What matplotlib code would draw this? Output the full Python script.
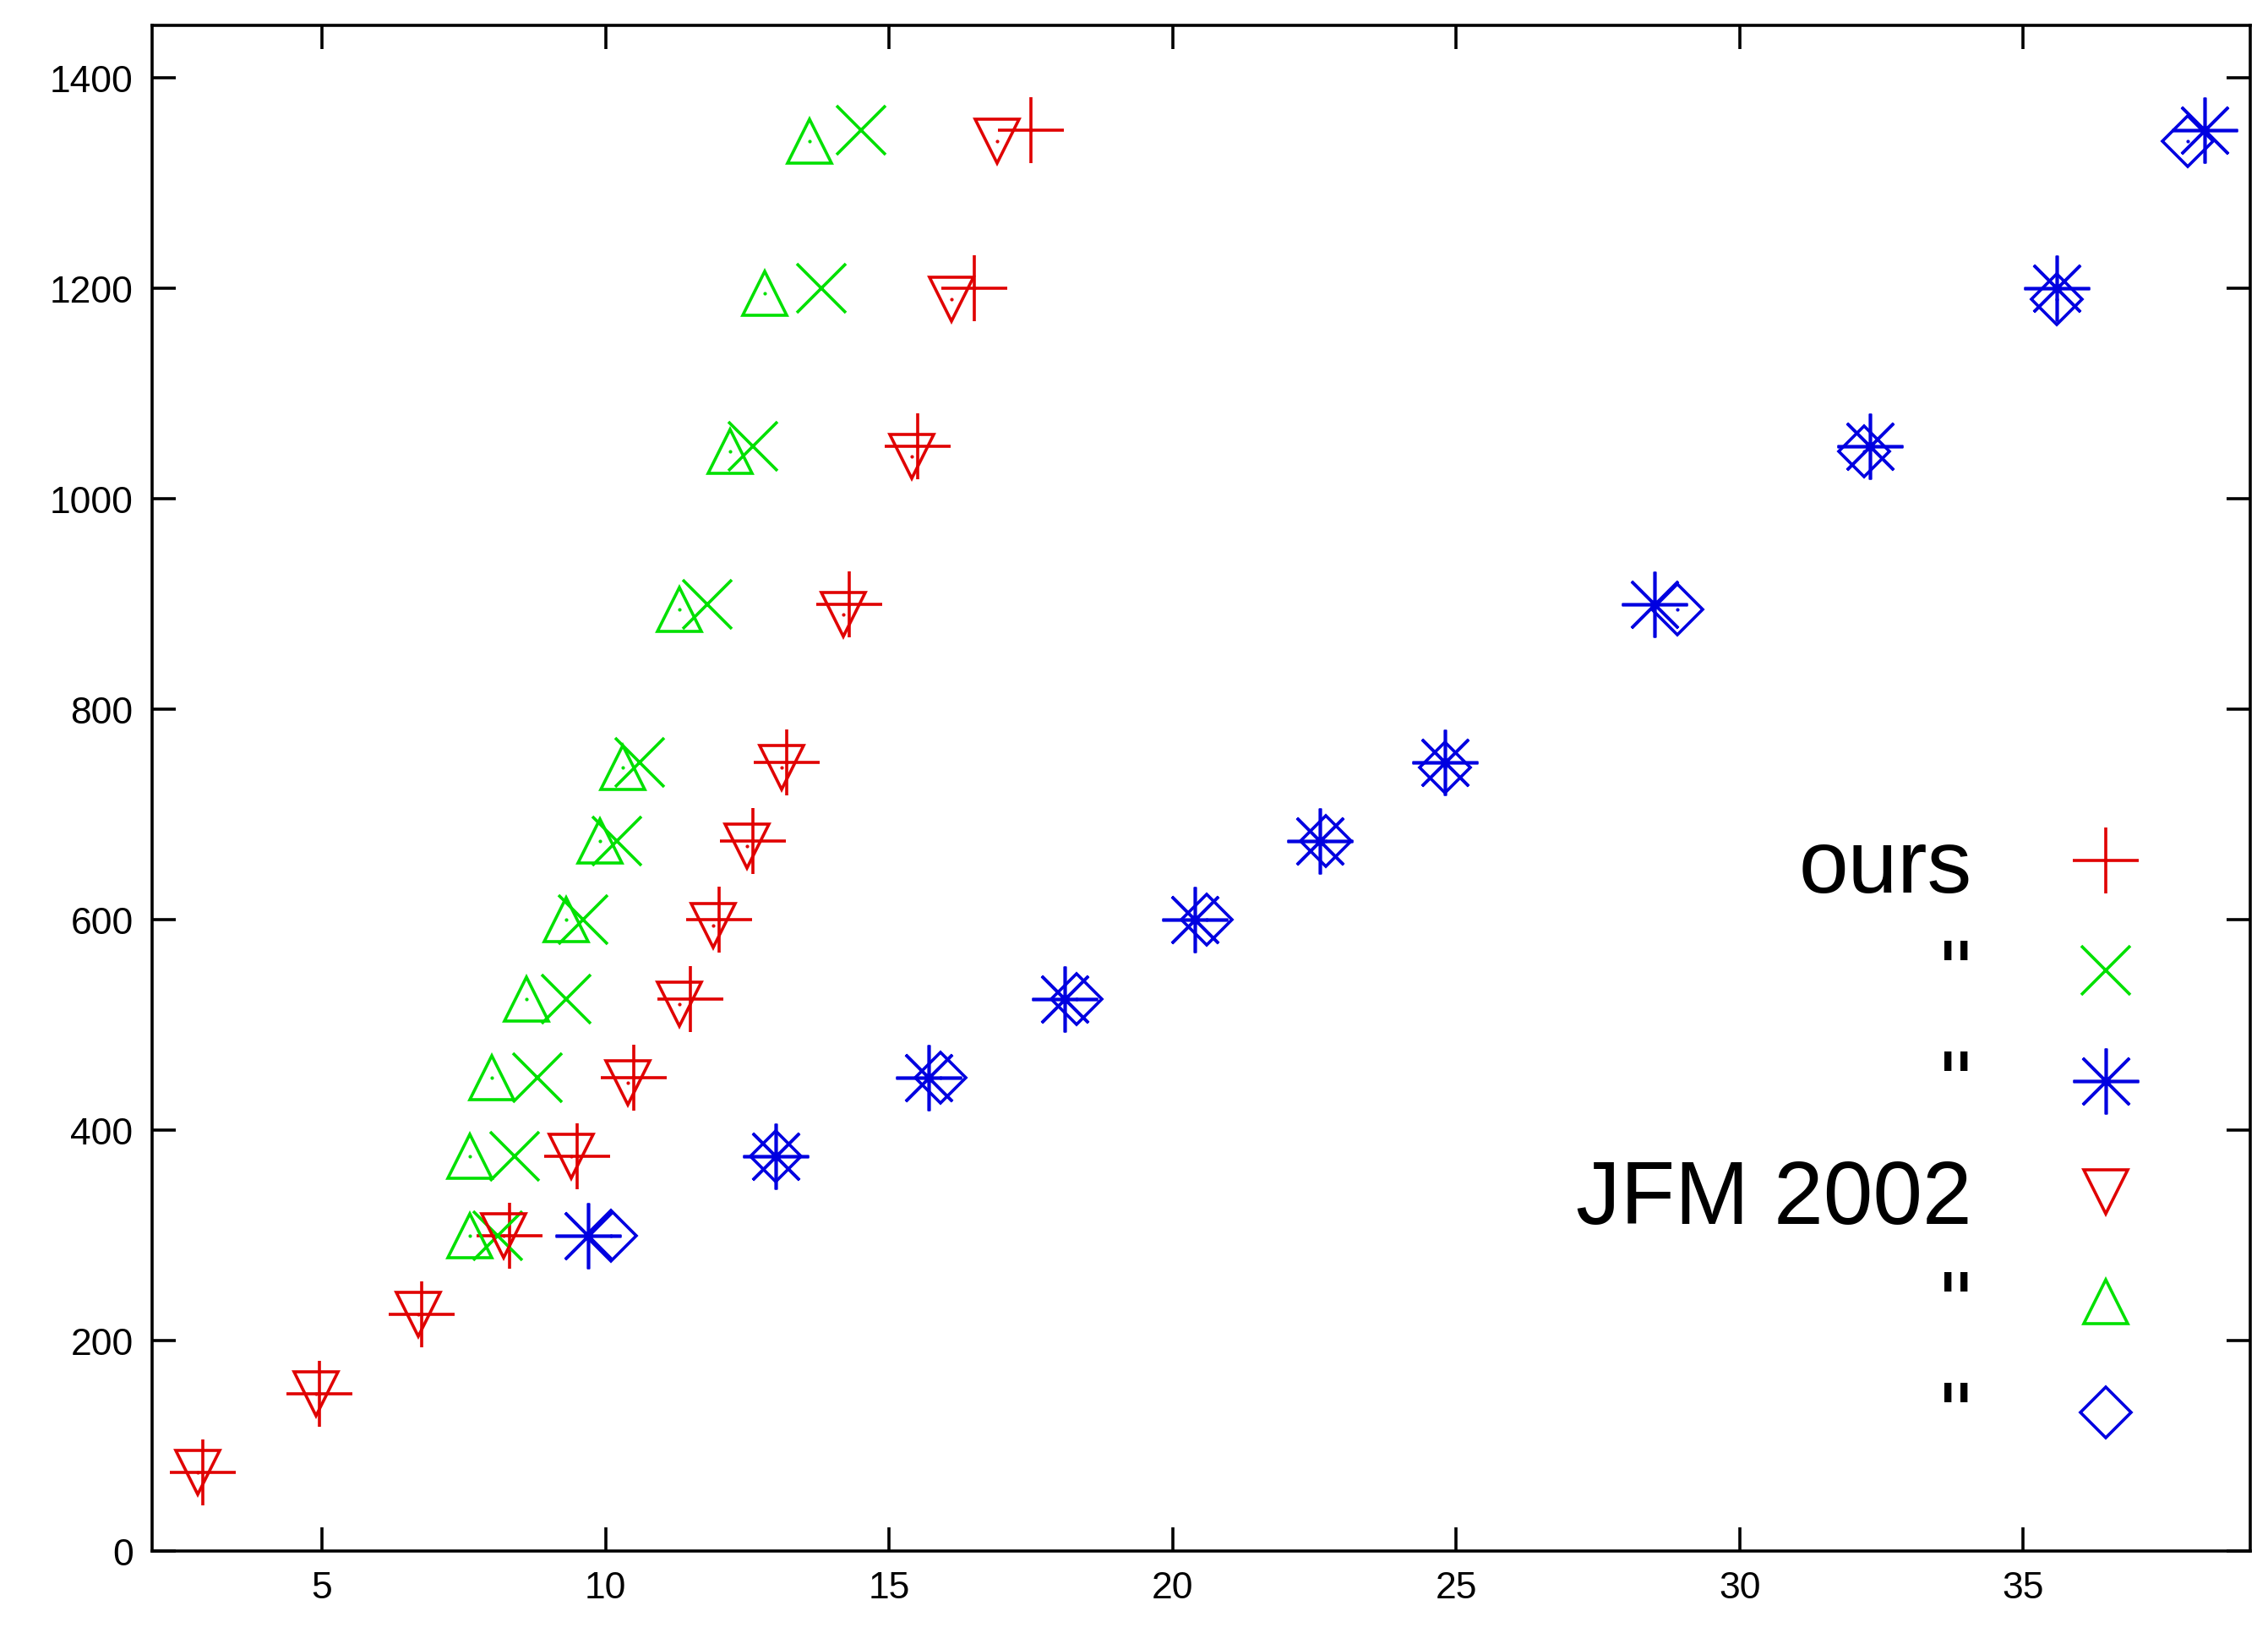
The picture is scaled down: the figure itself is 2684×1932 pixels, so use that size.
import matplotlib
matplotlib.use("Agg")
import matplotlib.pyplot as plt

plt.rcParams["font.family"] = ["Liberation Sans", "DejaVu Sans"]

levels = [75, 150, 225, 300, 375, 450, 525, 600, 675, 750, 900, 1050, 1200, 1350]

ours_red_x = [2.9, 4.95, 6.75, 8.3, 9.5, 10.5, 11.5, 12.0, 12.6, 13.2, 14.3, 15.5, 16.5, 17.5]
ours_red_y = levels

ours_green_x = [8.1, 8.4, 8.8, 9.3, 9.6, 10.2, 10.6, 11.8, 12.6, 13.8, 14.5]
ours_green_y = levels[3:]

ours_blue_x = [9.7, 13.0, 15.7, 18.1, 20.4, 22.6, 24.8, 28.5, 32.3, 35.6, 38.2]
ours_blue_y = levels[3:]

jfm_red_x = [2.8, 4.9, 6.7, 8.2, 9.4, 10.4, 11.3, 11.9, 12.5, 13.1, 14.2, 15.4, 16.1, 16.9]
jfm_red_y = [75, 150, 225, 300, 375, 445, 520, 595, 670, 745, 890, 1040, 1190, 1340]

jfm_green_x = [7.6, 7.6, 8.0, 8.6, 9.3, 9.9, 10.3, 11.3, 12.2, 12.8, 13.6]
jfm_green_y = [300, 375, 450, 525, 600, 675, 745, 895, 1045, 1195, 1340]

jfm_blue_x = [10.1, 13.0, 15.9, 18.3, 20.6, 22.7, 24.8, 28.9, 32.2, 35.6, 37.9]
jfm_blue_y = [300, 375, 450, 525, 600, 675, 745, 895, 1045, 1190, 1340]

RED, GREEN, BLUE = "#e00000", "#00e000", "#0000e0"

fig = plt.figure(figsize=(13.42, 9.665), dpi=200)
ax = fig.add_axes([0.067, 0.05, 0.925, 0.934])

ms = 28
lw = 1.3
series = [
    (ours_red_x, ours_red_y, "+", RED, "ours", ms),
    (ours_green_x, ours_green_y, "x", GREEN, '"', ms * 0.75),
    (ours_blue_x, ours_blue_y, (8, 2, 0), BLUE, '"', ms),
    (jfm_red_x, jfm_red_y, "v", RED, "JFM 2002", ms * 0.68),
    (jfm_green_x, jfm_green_y, "^", GREEN, '"', ms * 0.68),
    (jfm_blue_x, jfm_blue_y, "D", BLUE, '"', ms * 0.55),
]
for x, y, m, c, lab, s in series:
    ax.plot(x, y, ls="none", marker=m, ms=s, mfc="none", mec=c,
            mew=lw, label=lab)
    # gnuplot leaves a tiny dot at each point centre
    ax.plot(x, y, ls="none", marker=".", ms=1, color=c)

ax.set_xlim(2.0, 39.0)
ax.set_ylim(0, 1450)
ax.set_xticks([5, 10, 15, 20, 25, 30, 35])
ax.set_yticks(range(0, 1401, 200))
ax.tick_params(direction="in", length=10, width=1.3, top=True, right=True,
               labelsize=16, pad=8)
for sp in ax.spines.values():
    sp.set_linewidth(1.3)

ax.legend(loc="lower right", bbox_to_anchor=(0.978, 0.035), frameon=False,
          markerfirst=False, fontsize=38, labelspacing=0.3,
          handlelength=1.4, handletextpad=0.8, borderaxespad=0)

fig.savefig("out.png", dpi=200)
